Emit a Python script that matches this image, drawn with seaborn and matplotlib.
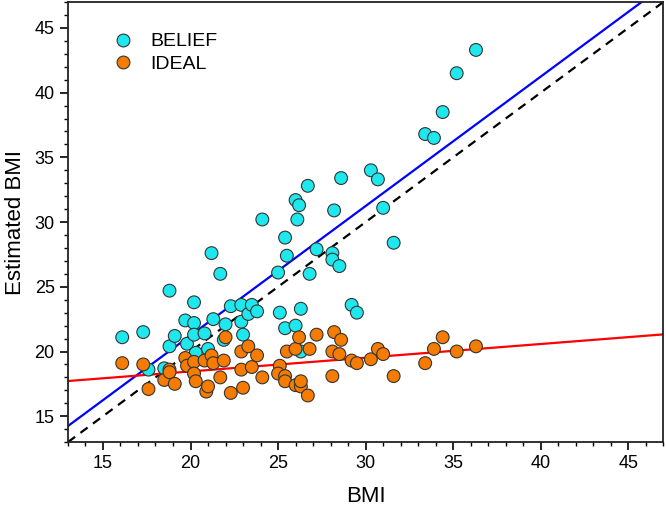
import numpy as np
import pandas as pd
import seaborn as sns
import matplotlib.pyplot as plt
from matplotlib.ticker import MultipleLocator

# Data
belief_bmi = [16.1, 17.3, 17.6, 18.5, 18.8, 18.8, 19.1, 19.7, 19.8, 20.2,
              20.2, 20.2, 20.3, 20.8, 21.0, 21.2, 21.3, 21.7, 22.0, 21.9,
              22.3, 22.9, 22.9, 23.0, 23.3, 23.5, 23.8, 24.1, 25.1, 25.0,
              25.4, 25.5, 25.4, 26.0, 26.2, 26.1, 26.0, 26.3, 26.3, 26.7,
              26.8, 27.2, 28.1, 28.1, 28.2, 28.6, 28.5, 29.2, 29.5, 30.3,
              30.7, 31.0, 31.6, 33.4, 33.9, 34.4, 35.2, 36.3]
belief_est = [21.1, 21.5, 18.6, 18.7, 24.7, 20.4, 21.2, 22.4, 20.6, 23.8,
              22.2, 21.3, 19.9, 21.4, 20.2, 27.6, 22.5, 26.0, 22.1, 20.9,
              23.5, 23.6, 22.3, 21.3, 22.9, 23.6, 23.1, 30.2, 23.0, 26.1,
              28.8, 27.4, 21.8, 31.7, 31.3, 30.2, 22.0, 23.3, 20.0, 32.8,
              26.0, 27.9, 27.6, 27.1, 30.9, 33.4, 26.6, 23.6, 23.0, 34.0,
              33.3, 31.1, 28.4, 36.8, 36.5, 38.5, 41.5, 43.3]

ideal_bmi = [16.1, 17.3, 17.6, 18.5, 18.8, 18.8, 19.1, 19.7, 19.8, 20.2,
             20.2, 20.3, 20.8, 20.9, 21.0, 21.2, 21.3, 21.7, 22.0, 21.9,
             22.3, 22.9, 22.9, 23.0, 23.3, 23.5, 23.8, 24.1, 25.1, 25.0,
             25.4, 25.4, 25.5, 26.0, 26.0, 26.2, 26.3, 26.3, 26.8, 26.7,
             27.2, 28.1, 28.1, 28.2, 28.5, 28.6, 29.2, 29.5, 30.3, 30.7,
             31.0, 31.6, 33.4, 33.9, 34.4, 35.2, 36.3]
ideal_est = [19.1, 19.0, 17.1, 17.8, 18.6, 18.4, 17.5, 19.5, 18.9, 19.2,
             18.3, 17.7, 19.3, 16.9, 17.3, 19.7, 19.1, 18.0, 21.1, 19.3,
             16.8, 20.0, 18.6, 17.2, 20.4, 18.8, 19.7, 18.0, 18.9, 18.3,
             18.1, 17.7, 20.0, 20.2, 17.4, 21.1, 17.3, 17.7, 20.2, 16.6,
             21.3, 18.1, 20.0, 21.5, 19.8, 20.9, 19.3, 19.1, 19.4, 20.2,
             19.8, 18.1, 19.1, 20.2, 21.1, 20.0, 20.4]

# fitted lines (slope, intercept)
belief_fit = (1.0, 1.24)
ideal_fit = (0.106, 16.34)

df = pd.concat([
    pd.DataFrame({"BMI": belief_bmi, "Estimated": belief_est, "group": "BELIEF"}),
    pd.DataFrame({"BMI": ideal_bmi, "Estimated": ideal_est, "group": "IDEAL"}),
])

sns.set_style("ticks")
plt.rcParams["font.family"] = ["Liberation Sans", "DejaVu Sans"]
plt.rcParams["text.color"] = "black"
plt.rcParams["axes.labelcolor"] = "black"
plt.rcParams["xtick.color"] = "black"
plt.rcParams["ytick.color"] = "black"

fig = plt.figure(figsize=(6.66, 5.07), dpi=100)
ax = fig.add_axes([0.102, 0.128, 0.894, 0.868])

xs = np.array([13, 47])
ax.plot(xs, xs, color="black", ls=(0, (4, 3)), lw=1.6, zorder=1)
ax.plot(xs, belief_fit[0] * xs + belief_fit[1], color="#0000ff", lw=1.6, zorder=1)
ax.plot(xs, ideal_fit[0] * xs + ideal_fit[1], color="#ff0000", lw=1.6, zorder=1)

sns.scatterplot(data=df, x="BMI", y="Estimated", hue="group",
                palette={"BELIEF": "#1ee8ee", "IDEAL": "#f57c00"},
                s=85, edgecolor="#333333", linewidth=0.8, ax=ax, zorder=3)

sns.move_legend(ax, "upper left", bbox_to_anchor=(0.03, 0.97), title=None,
                frameon=False, fontsize=14, handletextpad=0.4,
                labelspacing=0.25, markerscale=1.0)

ax.set_xlim(13, 47)
ax.set_ylim(13, 47)
ax.xaxis.set_minor_locator(MultipleLocator(1))
ax.yaxis.set_minor_locator(MultipleLocator(1))
ax.set_xticks(np.arange(15, 46, 5))
ax.set_yticks(np.arange(15, 46, 5))
ax.tick_params(which="major", direction="out", length=6, width=1.2, labelsize=13)
ax.tick_params(which="minor", direction="out", length=3, width=1.0)
for sp in ax.spines.values():
    sp.set_linewidth(1.3)
    sp.set_color("#222222")

ax.set_xlabel("BMI", fontsize=16, labelpad=10)
ax.set_ylabel("Estimated BMI", fontsize=16, labelpad=6)

fig.savefig("out.png", dpi=100)
